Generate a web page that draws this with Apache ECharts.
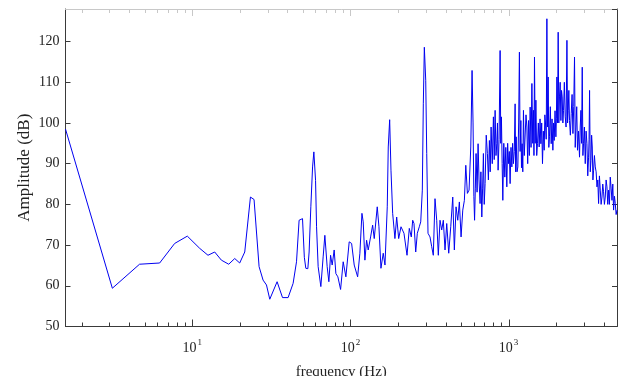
<!DOCTYPE html>
<html>
<head>
<meta charset="utf-8">
<script src="https://cdn.jsdelivr.net/npm/echarts@6/dist/echarts.min.js"></script>
<style>
  html, body { margin: 0; padding: 0; background: #fff; }
  #chart { width: 619px; height: 376px; }
</style>
</head>
<body>
<div id="chart"></div>
<script>
// spectrum: frequency (Hz) and amplitude (dB)
const freq = [
  1.583, 3.13, 4.65, 6.23, 7.75, 9.32, 11.16, 12.59, 13.88, 15.30,
  17.02, 18.58, 19.97, 21.49, 23.35, 24.61, 26.48, 28.06, 29.49, 30.94,
  34.42, 37.24, 40.39, 43.45, 45.65, 47.41, 49.82, 51.16, 52.28, 53.83,
  54.85, 56.23, 57.67, 58.75, 60.23, 61.11, 62.55, 65.06, 67.27, 68.96,
  71.32, 73.1, 74.94, 76.71, 78.98, 80.95, 83.36, 86.7, 90.05, 93.65,
  98.26, 101.8, 105.7, 111.1, 114.8, 118.3, 120.5, 123.5, 126.6, 129.6,
  134.2, 138.2, 141.5, 147.8, 151.5, 156, 161.3, 165.4, 171, 173.5,
  177.1, 180.5, 185, 191.2, 196.1, 201.9, 208.8, 218.1, 228, 235.6,
  242.6, 247.6, 252.3, 258.7, 264.8, 272.6, 278.3, 284.8, 289, 293.3,
  299.3, 303.7, 309.4, 318.5, 326.5, 334.2, 342.6, 351.2, 359.5, 368.5,
  377.7, 386.6, 396.3, 406.3, 418.3, 430.7, 443.5, 453.9, 465.3, 477,
  488.3, 500.6, 513.1, 525.3, 536.1, 548.7, 562.3, 576.5, 587.5, 596,
  603, 609.3, 616, 622.7, 632, 641.2, 650, 660.2, 668, 676.8,
  685, 692.8, 701, 710.2, 722, 734.3, 745, 756, 765, 775,
  788, 801.4, 811, 821.5, 832, 842, 850, 858.1, 870, 883.6,
  892, 900.5, 910, 919.1, 932, 946.2, 960, 974.1, 986, 997,
  1010, 1022, 1035, 1048, 1060, 1072, 1086, 1099, 1108, 1116,
  1130, 1144, 1157, 1170, 1182, 1195, 1206, 1217, 1229, 1241,
  1256, 1272, 1288, 1304, 1320, 1335, 1352, 1368, 1386, 1403,
  1420, 1436, 1446, 1457, 1472, 1487, 1505, 1522, 1541, 1560,
  1580, 1599, 1618, 1637, 1657, 1678, 1694, 1710, 1728, 1745,
  1761, 1778, 1795, 1812, 1835, 1858, 1881, 1904, 1922, 1941,
  1965, 1989, 2004, 2019, 2038, 2057, 2076, 2096, 2118, 2140,
  2160, 2181, 2202, 2223, 2250, 2279, 2307, 2336, 2358, 2380,
  2402, 2425, 2456, 2487, 2518, 2549, 2579, 2609, 2636, 2663,
  2694, 2725, 2765, 2806, 2835, 2864, 2891, 2919, 2947, 2975,
  3012, 3050, 3088, 3126, 3163, 3201, 3224, 3248, 3281, 3315,
  3346, 3378, 3410, 3443, 3486, 3529, 3573, 3617, 3660, 3703,
  3749, 3795, 3842, 3890, 3935, 3981, 4031, 4081, 4132, 4183,
  4232, 4282, 4335, 4389, 4444, 4500, 4553, 4606, 4664, 4722,
  4780, 4841
];
const amp = [
  98.5, 59.4, 65.3, 65.6, 70.4, 72.2, 69.2, 67.5, 68.3, 66.3,
  65.3, 66.7, 65.6, 68.3, 81.8, 81.2, 64.7, 61.4, 60.2, 56.7,
  61.0, 57.1, 57.1, 60.6, 65.9, 76.1, 76.5, 67.0, 64.3, 64.2,
  68.3, 79.4, 89.2, 92.9, 85.9, 74.5, 64.7, 59.8, 67.1, 72.4,
  64.7, 61.0, 67.5, 65.1, 68.8, 63.0, 62.2, 59.1, 65.9, 62.2,
  70.8, 70.4, 65.1, 62.2, 68.0, 77.8, 75.7, 66.3, 71.2, 68.8,
  72.0, 74.9, 71.6, 79.4, 74.5, 64.3, 68.0, 65.1, 79.4, 94.1,
  100.8, 88.4, 77.8, 71.6, 76.9, 71.6, 74.5, 72.9, 67.5, 74.1,
  72.0, 76.1, 75.3, 68.3, 72.9, 74.5, 75.7, 83.5, 104.7, 118.6,
  110.5, 92.5, 72.9, 72.0, 69.6, 67.5, 81.4, 76.1, 67.5, 76.1,
  73.7, 76.1, 68.8, 75.3, 68.0, 74.5, 81.8, 68.8, 79.4, 76.1,
  80.6, 72.0, 78.6, 81.0, 89.6, 82.7, 83.5, 94.1, 112.9, 100,
  82, 76.1, 84, 92.5, 83, 94.9, 86, 80.2, 88, 76.9,
  84, 92.5, 80, 85.1, 97, 92.5, 86, 95.7, 88, 99.0,
  90, 101.5, 91, 103.1, 92, 94.9, 100, 88.4, 96, 117.8,
  95, 101.5, 90, 81.0, 95, 86.7, 94, 84.3, 95, 90.0,
  93, 85.1, 94, 89.2, 95, 90.0, 93, 104.7, 88, 96.6,
  88, 89.2, 100, 117.4, 93, 100.6, 89, 94.9, 88, 103.1,
  92, 91.6, 102, 99.0, 90, 100.6, 92, 103.9, 94, 109.7,
  95, 103.1, 92, 116.2, 95, 105.6, 92, 94.9, 100, 94.1,
  101, 94.9, 100, 90.0, 98, 93.3, 102, 100, 96, 125.6,
  99, 111.3, 94, 96.6, 104, 94.9, 101, 93.3, 100, 95.7,
  103, 96.6, 101, 111.3, 100, 122.3, 100, 106.4, 110, 100.6,
  108, 106.4, 100, 103.1, 110, 101.5, 99, 120.3, 100, 103.1,
  108, 100.6, 97, 102.3, 107, 97.4, 104, 116.2, 94, 99.0,
  104, 93.3, 98, 91.6, 99, 103.1, 95, 113.7, 92, 94.9,
  99, 90.0, 98, 94.9, 87, 91.6, 96, 108.0, 88, 90.8,
  97, 94.1, 86, 88.4, 92, 89.2, 88, 84.3, 86, 80.2,
  87, 83.5, 80, 81.8, 85, 83.1, 80, 81.8, 86, 84.3,
  80, 83.5, 80, 86.7, 84, 81.0, 85, 78.6, 82, 80.2,
  77.5, 78.6
];
const xMin = 1.583, xMax = 4841;
const yMin = 50, yMax = 128, yStep = 10;
const decades = [1, 10, 100, 1000];

const axisColor = '#3a3a3a';
const font = '"Liberation Serif", "Times New Roman", serif';

const chart = echarts.init(document.getElementById('chart'));

const supLabel = (v) => {
  const e = Math.log10(v);
  if (Math.abs(e - Math.round(e)) > 1e-6 || v < xMin * 1.01 || v > xMax * 0.99) return '';
  return '{b|10}{s|' + Math.round(e) + '}';
};

const xBase = {
  type: 'log',
  logBase: 10,
  min: xMin,
  max: xMax,
  splitNumber: 3,
  splitLine: { show: false },
  axisTick: { show: false },
  axisLine: { onZero: false, lineStyle: { color: axisColor, width: 1 } }
};
const yBase = {
  type: 'value',
  min: yMin,
  max: yMax,
  interval: yStep,
  splitLine: { show: false },
  axisTick: { inside: true, length: 5, lineStyle: { color: axisColor } },
  axisLine: { lineStyle: { color: axisColor, width: 1 } }
};

chart.setOption({
  animation: false,
  backgroundColor: '#ffffff',
  grid: { left: 65.5, right: 2, top: 9, bottom: 49.5, containLabel: false, outerBoundsMode: 'none' },
  xAxis: [
    Object.assign({}, xBase, {
      position: 'bottom',
      name: 'frequency (Hz)',
      nameLocation: 'middle',
      nameGap: 38,
      nameMoveOverlap: false,
      nameTextStyle: { fontFamily: font, fontSize: 15, color: '#222' },
      axisLabel: {
        margin: 12,
        formatter: supLabel,
        showMinLabel: false,
        showMaxLabel: false,
        rich: {
          b: { fontFamily: font, fontSize: 14, color: '#222' },
          s: { fontFamily: font, fontSize: 9, color: '#222', padding: [0, 0, 10, 1] }
        }
      }
    }),
    Object.assign({}, xBase, {
      position: 'top',
      axisLabel: { show: false },
      axisLine: { onZero: false, lineStyle: { color: '#c8c8c8', width: 1 } }
    })
  ],
  yAxis: [
    Object.assign({}, yBase, {
      position: 'left',
      name: 'Amplitude (dB)',
      nameLocation: 'middle',
      nameGap: 32,
      nameMoveOverlap: false,
      nameTextStyle: { fontFamily: font, fontSize: 17, color: '#222' },
      axisLabel: {
        margin: 6,
        fontFamily: font,
        fontSize: 14,
        color: '#222',
        showMaxLabel: false
      }
    }),
    Object.assign({}, yBase, { position: 'right', axisLabel: { show: false } })
  ],
  series: [{
    type: 'line',
    data: freq.map((f, i) => [f, amp[i]]),
    showSymbol: false,
    symbol: 'none',
    lineStyle: { color: '#0000f0', width: 1 },
    silent: true
  }]
});

// log-axis ticks (decades and 2..9 subdivisions), placed through the axis scale
function drawTicks() {
  const yB = chart.convertToPixel({ yAxisIndex: 0 }, yMin);
  const yT = chart.convertToPixel({ yAxisIndex: 0 }, yMax);
  const lines = [];
  decades.forEach((d) => {
    for (let k = 1; k <= 9; k++) {
      const f = d * k;
      if (f <= xMin || f >= xMax) continue;
      const x = Math.round(chart.convertToPixel({ xAxisIndex: 0 }, f)) + 0.5;
      const len = k === 1 ? 7 : 4;
      lines.push({ type: 'line', shape: { x1: x, y1: yB, x2: x, y2: yB - len },
        style: { stroke: axisColor, lineWidth: 1 }, silent: true });
      lines.push({ type: 'line', shape: { x1: x, y1: yT, x2: x, y2: yT + len },
        style: { stroke: '#c8c8c8', lineWidth: 1 }, silent: true });
    }
  });
  chart.setOption({ graphic: lines });
}
drawTicks();
</script>
</body>
</html>
